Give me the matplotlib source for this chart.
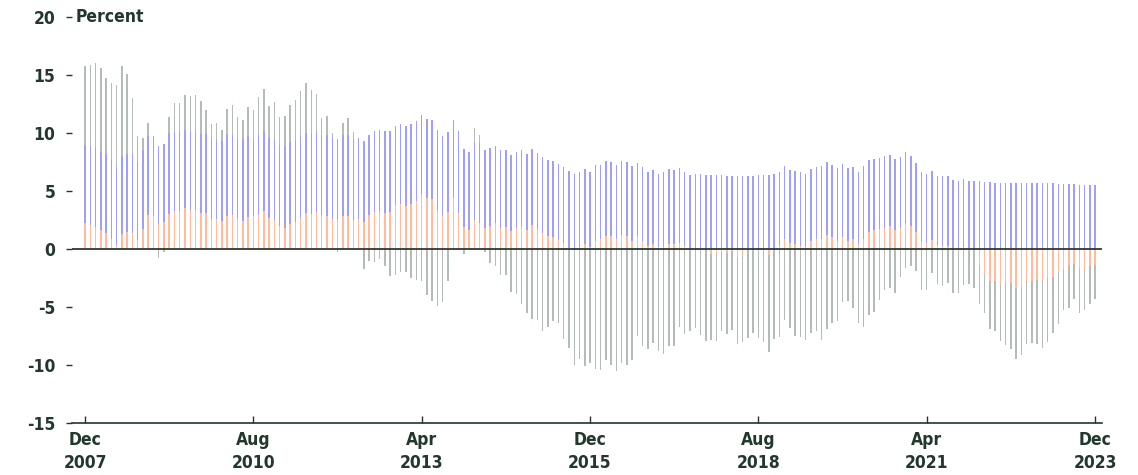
import numpy as np
import matplotlib
matplotlib.use("Agg")
import matplotlib.pyplot as plt

# monthly, Dec 2007 .. Dec 2023 (193 bars)
orange = [2.2, 2.1, 1.9, 1.6, 1.35, 0.9, 0.35, 1.25, 1.5, 1.4, 0.8, 1.7, 2.9, 2.85, 2.15, 2.35,
          3.05, 3.3, 3.25, 3.5, 3.4, 3.4, 3.1, 3.1, 2.6, 2.55, 2.4, 2.85, 2.9, 2.7, 2.4, 2.8,
          2.85, 2.9, 3.3, 2.7, 2.5, 2.0, 1.8, 2.15, 2.35, 2.7, 3.1, 3.0, 3.2, 2.9, 2.85, 2.6,
          2.55, 2.85, 2.85, 2.5, 2.55, 2.35, 2.9, 3.2, 3.3, 3.1, 3.2, 3.8, 3.9, 3.7, 3.9, 4.15,
          4.7, 4.4, 4.3, 3.4, 2.85, 3.2, 4.4, 3.1, 1.9, 1.6, 2.5, 2.2, 1.85, 2.0, 2.2, 1.85,
          1.9, 1.55, 1.85, 1.9, 1.6, 2.05, 1.7, 1.35, 1.15, 1.05, 0.8, 0.5, 0.1, 0.0, 0.15, 0.4,
          0.2, 0.7, 0.85, 1.1, 1.1, 0.85, 1.2, 1.15, 0.7, 1.1, 0.7, 0.25, 0.4, 0.15, 0.2, 0.4,
          0.45, 0.55, 0.25, 0.0, 0.1, 0.05, 0.0, -0.45, -0.45, -0.3, -0.35, -0.15, -0.65, -0.6, 0.0, 0.0,
          0.0, 0.0, -0.55, 0.0, 0.25, 0.85, 0.55, 0.45, 0.3, 0.2, 0.65, 0.85, 0.9, 1.2, 1.0, 0.65,
          1.05, 0.7, 0.85, 0.45, 0.9, 1.45, 1.65, 1.7, 1.85, 2.0, 1.65, 1.85, 2.25, 2.0, 1.45, 0.7,
          0.55, 0.8, 0.35, 0.3, 0.25, 0.0, -0.15, 0.15, 0.0, 0.0, -1.4, -2.25, -2.8, -2.8, -3.05, -2.95,
          -2.95, -3.35, -3.25, -2.8, -2.75, -2.65, -2.75, -2.5, -2.45, -1.95, -1.75, -1.5, -1.3, -1.65, -1.75, -1.5,
          -1.4]

blue = [6.8, 6.8, 6.8, 6.8, 6.85, 6.8, 6.75, 6.75, 6.7, 6.8, 6.7, 6.8, 6.8, 6.85, 6.75, 6.7,
        6.95, 6.8, 6.85, 6.8, 6.8, 6.7, 6.8, 6.8, 6.9, 6.9, 6.9, 6.95, 6.9, 6.75, 7.05, 6.9,
        6.75, 6.9, 6.9, 6.9, 7.0, 7.0, 7.0, 7.1, 7.05, 7.1, 6.9, 7.0, 6.9, 6.9, 6.95, 7.0,
        6.95, 6.95, 6.95, 7.0, 7.05, 6.95, 6.9, 7.0, 6.95, 7.1, 7.0, 6.8, 6.9, 6.9, 6.9, 6.85,
        6.85, 6.8, 6.8, 6.85, 6.85, 6.85, 6.75, 7.1, 6.7, 6.8, 6.7, 6.9, 6.7, 6.7, 6.7, 6.65,
        6.65, 6.55, 6.55, 6.65, 6.6, 6.55, 6.6, 6.55, 6.55, 6.55, 6.5, 6.6, 6.6, 6.45, 6.45, 6.5,
        6.4, 6.5, 6.4, 6.5, 6.4, 6.4, 6.4, 6.35, 6.45, 6.35, 6.4, 6.4, 6.4, 6.35, 6.4, 6.5,
        6.35, 6.4, 6.4, 6.4, 6.35, 6.4, 6.35, 6.4, 6.35, 6.35, 6.3, 6.3, 6.3, 6.3, 6.3, 6.3,
        6.35, 6.4, 6.4, 6.45, 6.35, 6.3, 6.3, 6.25, 6.3, 6.3, 6.25, 6.25, 6.25, 6.3, 6.25, 6.3,
        6.3, 6.25, 6.25, 6.15, 6.25, 6.2, 6.15, 6.15, 6.15, 6.1, 6.1, 6.05, 6.1, 6.0, 6.0, 5.9,
        5.95, 5.9, 5.95, 6.0, 6.0, 5.95, 5.85, 5.85, 5.85, 5.85, 5.85, 5.75, 5.75, 5.7, 5.7, 5.7,
        5.7, 5.7, 5.65, 5.65, 5.65, 5.65, 5.65, 5.65, 5.65, 5.6, 5.6, 5.6, 5.6, 5.55, 5.55, 5.55,
        5.55]

gray = [6.8, 7.0, 7.3, 7.2, 6.5, 6.6, 7.0, 7.8, 6.9, 4.8, 2.2, 1.1, 1.2, 0.0, -0.8, -0.25,
        1.35, 2.5, 2.5, 3.0, 3.0, 3.2, 2.9, 2.1, 1.3, 1.45, 1.0, 2.3, 2.6, 1.95, 1.65, 2.5,
        2.4, 3.3, 3.6, 2.7, 3.2, 2.4, 2.7, 3.15, 3.45, 3.8, 4.3, 3.7, 3.3, 1.5, 1.7, 0.4,
        -0.3, 1.1, 1.5, 0.6, 0.0, -1.7, -1.0, -1.15, -0.85, -1.45, -2.3, -2.2, -2.0, -1.95, -2.5, -2.7,
        -2.8, -3.95, -4.45, -4.95, -4.55, -2.8, 0.0, 0.0, -0.45, 0.0, 1.2, 0.7, -0.3, -1.25, -1.45, -2.2,
        -2.2, -3.7, -3.9, -4.7, -5.55, -6.0, -6.1, -7.1, -6.7, -6.2, -6.35, -7.8, -8.5, -10.0, -9.5, -10.1,
        -9.8, -10.35, -10.4, -9.6, -10.0, -10.5, -9.85, -10.0, -9.55, -7.5, -8.35, -8.65, -8.1, -8.8, -9.05, -8.35,
        -8.4, -6.7, -7.3, -7.1, -6.85, -7.4, -7.9, -7.4, -7.45, -6.8, -7.0, -6.85, -7.55, -7.4, -7.7, -7.25,
        -7.65, -8.0, -8.35, -7.75, -7.55, -6.1, -6.8, -7.5, -7.55, -7.85, -7.2, -7.1, -7.85, -6.9, -6.4, -6.2,
        -4.6, -4.5, -5.05, -6.35, -6.7, -5.65, -5.45, -4.4, -3.5, -3.35, -3.8, -2.45, -1.65, -1.5, -1.9, -3.55,
        -3.5, -2.05, -3.0, -3.2, -2.95, -3.8, -3.65, -3.1, -3.0, -3.4, -3.35, -3.25, -4.1, -4.3, -4.85, -5.3,
        -5.65, -6.15, -5.9, -5.35, -5.35, -5.5, -5.75, -5.5, -4.75, -4.55, -3.5, -3.55, -3.05, -3.9, -3.5, -3.25,
        -2.95]

tick_pos = [0, 32, 64, 96, 128, 160, 192]
tick_labels = ["Dec\n2007", "Aug\n2010", "Apr\n2013", "Dec\n2015", "Aug\n2018", "Apr\n2021", "Dec\n2023"]

plt.rcParams["axes.unicode_minus"] = False
txt = "#22382c"

fig = plt.figure(figsize=(11.38, 4.75), dpi=100)
ax = fig.add_axes([0.0633, 0.1095, 0.905, 0.8547])

x = np.arange(len(orange))
pos = np.zeros(len(x))
neg = np.zeros(len(x))
for vals, col in [(orange, "#ffbb9c"), (blue, "#9f9ff7"), (gray, "#b3bcb6")]:
    v = np.array(vals)
    bottom = np.where(v >= 0, pos, neg)
    ax.bar(x, v, bottom=bottom, width=0.28, color=col, linewidth=0)
    pos = pos + np.where(v > 0, v, 0)
    neg = neg + np.where(v < 0, v, 0)

ax.axhline(0, color="#2b3a31", lw=1.3)

ax.set_xlim(-2.47, 193.3)
ax.set_ylim(-15, 20)
ax.set_yticks(range(-15, 21, 5))
ax.set_xticks(tick_pos)
ax.set_xticklabels(tick_labels)

for s in ["top", "right", "left"]:
    ax.spines[s].set_visible(False)
ax.spines["bottom"].set_color(txt)
ax.spines["bottom"].set_linewidth(1.2)

ax.tick_params(axis="x", direction="in", length=5, width=1, color=txt, pad=6)
ax.tick_params(axis="y", length=4, width=1, color=txt, pad=8)
for lab in ax.get_xticklabels() + ax.get_yticklabels():
    lab.set_fontweight("bold")
    lab.set_fontsize(12.5)
    lab.set_color(txt)
    lab.set_fontstretch("condensed")
    lab.set_linespacing(1.3)

ax.text(0.003, 20, "Percent", fontsize=12.5, fontweight="bold", color=txt,
        fontstretch="condensed", va="center", ha="left", transform=ax.get_yaxis_transform())

fig.savefig("out.png", dpi=100)
